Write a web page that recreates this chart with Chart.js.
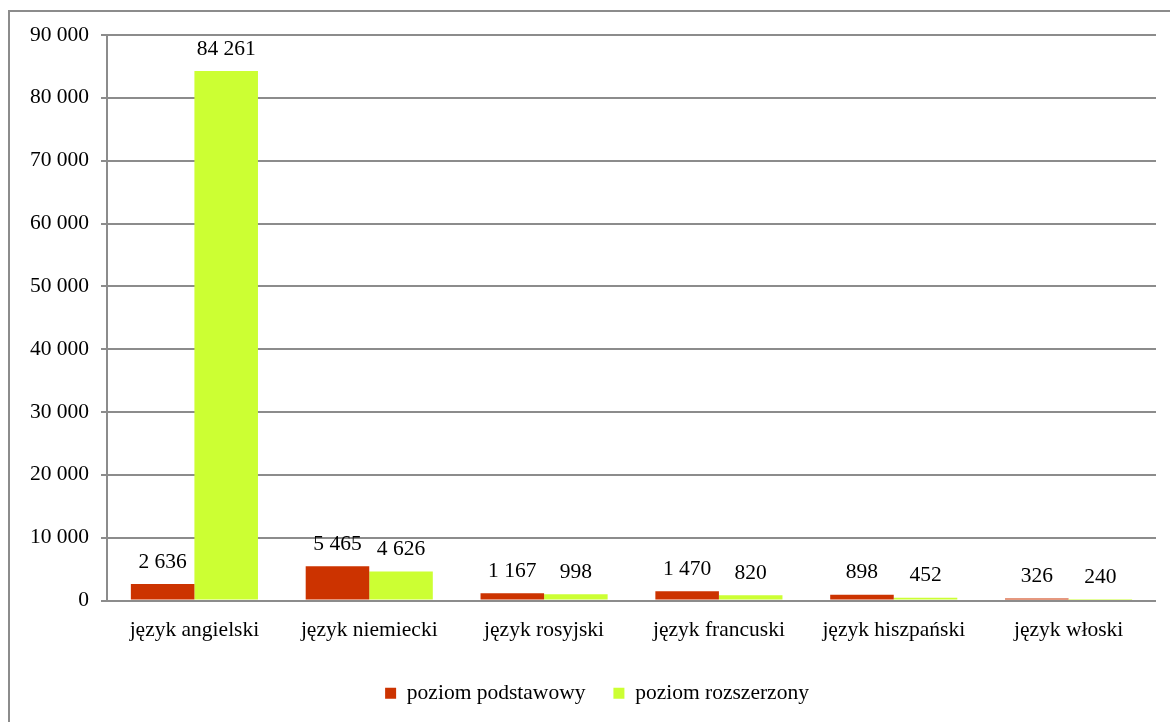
<!DOCTYPE html>
<html lang="pl">
<head>
    <meta charset="UTF-8">
    <title>Matura - języki obce</title>
    <script src="https://cdn.jsdelivr.net/npm/chart.js"></script>
    <style>
        * { margin: 0; padding: 0; }
        body { background: #fff; width: 1170px; height: 722px; overflow: hidden; position: relative; }
        #frame { position: absolute; left: 8px; top: 10px; width: 1300px; height: 800px; border: 2px solid #8c8c8c; }
        #wrap { position: absolute; left: 0; top: 0; width: 1170px; height: 722px; }
    </style>
</head>
<body>
    <div id="frame"></div>
    <div id="wrap"><canvas id="myChart" width="1170" height="722"></canvas></div>
    <script>
        const languages = ['język angielski', 'język niemiecki', 'język rosyjski', 'język francuski', 'język hiszpański', 'język włoski'];
        const basicLevel = [2636, 5465, 1167, 1470, 898, 326];
        const extendedLevel = [84261, 4626, 998, 820, 452, 240];
        const seriesNames = ['poziom podstawowy', 'poziom rozszerzony'];

        const FONT = '"Liberation Serif", "Times New Roman", serif';
        const SIZE = 21.5;

        function fmt(n) {
            return String(n).replace(/\B(?=(\d{3})+(?!\d))/g, ' ');
        }

        // value labels above bars
        const barLabels = {
            id: 'barLabels',
            afterDatasetsDraw(chart) {
                const ctx = chart.ctx;
                ctx.save();
                ctx.font = SIZE + 'px ' + FONT;
                ctx.fillStyle = '#000';
                ctx.textAlign = 'center';
                ctx.textBaseline = 'middle';
                chart.data.datasets.forEach(function (ds, i) {
                    chart.getDatasetMeta(i).data.forEach(function (bar, j) {
                        ctx.fillText(fmt(ds.data[j]), bar.x, bar.y - 22);
                    });
                });
                ctx.restore();
            }
        };

        // legend sits a little right of centre in the original
        const legendShift = {
            id: 'legendShift',
            afterLayout(chart) {
                chart.legend.left += 15;
                chart.legend.right += 15;
            }
        };

        const ctx = document.getElementById('myChart');
        new Chart(ctx, {
            type: 'bar',
            data: {
                labels: languages,
                datasets: [{
                    label: seriesNames[0],
                    data: basicLevel,
                    backgroundColor: '#cc3300'
                }, {
                    label: seriesNames[1],
                    data: extendedLevel,
                    backgroundColor: '#ccff33'
                }]
            },
            options: {
                responsive: false,
                animation: false,
                devicePixelRatio: 1,
                layout: { padding: { left: 8, top: 35, right: 14, bottom: 8 } },
                datasets: { bar: { categoryPercentage: 0.727, barPercentage: 1 } },
                scales: {
                    x: {
                        grid: { display: false },
                        border: { display: false },
                        ticks: { color: '#000', font: { family: FONT, size: SIZE }, padding: 9 },
                        afterFit: function (s) { s.height = 54; }
                    },
                    y: {
                        min: 0,
                        max: 90000,
                        ticks: {
                            stepSize: 10000,
                            color: '#000',
                            font: { family: FONT, size: SIZE },
                            padding: 12,
                            callback: function (v) { return fmt(v); }
                        },
                        grid: { color: '#8c8c8c', lineWidth: 2, tickLength: 6 },
                        border: { color: '#8c8c8c', width: 2 },
                        afterFit: function (s) { s.width = 99; }
                    }
                },
                plugins: {
                    legend: {
                        position: 'bottom',
                        labels: {
                            color: '#000',
                            font: { family: FONT, size: SIZE },
                            boxWidth: 11,
                            boxHeight: 11,
                            padding: 28
                        }
                    },
                    tooltip: { enabled: false }
                }
            },
            plugins: [barLabels, legendShift]
        });
    </script>
</body>
</html>
